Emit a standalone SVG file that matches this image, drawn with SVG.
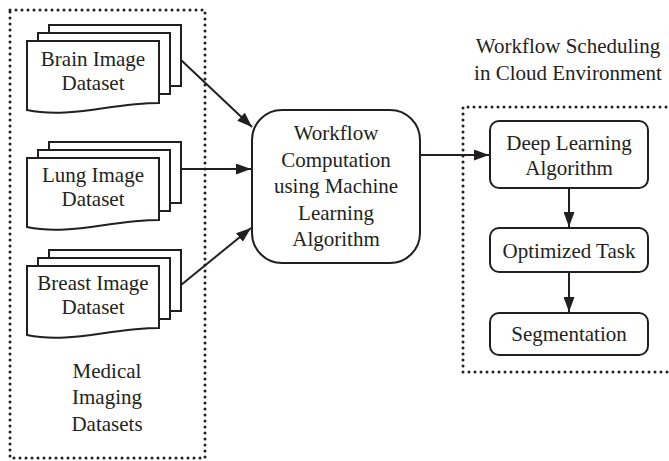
<svg xmlns="http://www.w3.org/2000/svg" xmlns:xlink="http://www.w3.org/1999/xlink" width="669" height="461" viewBox="0 0 669 461">
<style>
.t{font-family:"Liberation Serif","Times New Roman",serif;font-size:21px;fill:#231f20;text-anchor:middle}
.sh{fill:#fff;stroke:#231f20;stroke-width:2}
.dot{fill:none;stroke:#231f20;stroke-width:3;stroke-linecap:round;stroke-dasharray:0 6}
.ln{fill:none;stroke:#231f20;stroke-width:2}
</style>
<defs>
<marker id="ah" markerUnits="userSpaceOnUse" markerWidth="15" markerHeight="11" refX="15" refY="5.5" orient="auto">
<path d="M0,0 L15,5.5 L0,11 Z" fill="#231f20"/>
</marker>
<g id="docstack">
<rect class="sh" x="49" y="-16" width="132" height="61"/>
<rect class="sh" x="38" y="-8" width="132" height="61"/>
<path class="sh" d="M27,0 H159 V62 C110,62 70,78 27,69 Z"/>
</g>
</defs>
<g id="medical-group">
<rect class="dot" x="10" y="10" width="195" height="448"/>
<text class="t" x="107" y="378">Medical</text>
<text class="t" x="107" y="404">Imaging</text>
<text class="t" x="107" y="431">Datasets</text>
</g>
<g id="cloud-group">
<path class="dot" d="M672,107 H463 V372 H672"/>
<text class="t" x="568" y="53">Workflow Scheduling</text>
<text class="t" x="568" y="80">in Cloud Environment</text>
</g>
<g id="brain">
<use xlink:href="#docstack" transform="translate(0,41)"/>
<text class="t" x="93" y="66">Brain Image</text>
<text class="t" x="93" y="90">Dataset</text>
</g>
<g id="lung">
<use xlink:href="#docstack" transform="translate(0,158)"/>
<text class="t" x="93" y="182">Lung Image</text>
<text class="t" x="93" y="206">Dataset</text>
</g>
<g id="breast">
<use xlink:href="#docstack" transform="translate(0,266)"/>
<text class="t" x="93" y="290">Breast Image</text>
<text class="t" x="93" y="314">Dataset</text>
</g>
<g id="workflow">
<rect class="sh" x="252" y="110" width="168" height="153" rx="30" ry="30"/>
<text class="t" x="336" y="140">Workflow</text>
<text class="t" x="336" y="167">Computation</text>
<text class="t" x="336" y="193">using Machine</text>
<text class="t" x="336" y="220">Learning</text>
<text class="t" x="336" y="246">Algorithm</text>
</g>
<g id="deep">
<rect class="sh" x="490" y="121" width="158" height="67" rx="9" ry="9"/>
<text class="t" x="569" y="150">Deep Learning</text>
<text class="t" x="569" y="175">Algorithm</text>
</g>
<g id="optimized">
<rect class="sh" x="490" y="228" width="158" height="44" rx="9" ry="9"/>
<text class="t" x="569" y="258">Optimized Task</text>
</g>
<g id="segmentation">
<rect class="sh" x="490" y="313" width="158" height="42" rx="9" ry="9"/>
<text class="t" x="569" y="341">Segmentation</text>
</g>
<g id="connectors">
<line class="ln" x1="181" y1="60" x2="252" y2="127" marker-end="url(#ah)"/>
<line class="ln" x1="181" y1="169" x2="251" y2="169" marker-end="url(#ah)"/>
<line class="ln" x1="181" y1="285" x2="251" y2="228" marker-end="url(#ah)"/>
<line class="ln" x1="420" y1="155" x2="489" y2="155" marker-end="url(#ah)"/>
<line class="ln" x1="569" y1="188" x2="569" y2="227" marker-end="url(#ah)"/>
<line class="ln" x1="569" y1="272" x2="569" y2="312" marker-end="url(#ah)"/>
</g>
</svg>
